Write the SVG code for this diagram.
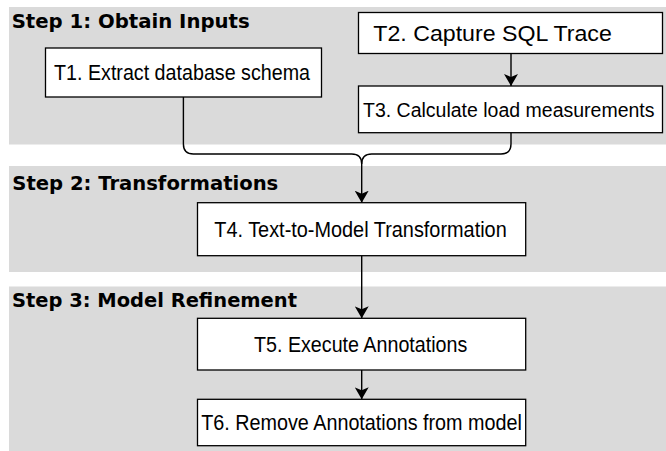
<svg xmlns="http://www.w3.org/2000/svg" width="666" height="451" viewBox="0 0 666 451">
<style>
.panel{fill:#dadada;stroke:none}
.step{font-family:"DejaVu Sans","Verdana",sans-serif;font-weight:bold;font-size:19.5px;fill:#000}
.box{fill:#fff;stroke:#000;stroke-width:1.3}
.lbl{font-family:"Liberation Sans",Arial,sans-serif;font-size:21.5px;fill:#000}
.edge{fill:none;stroke:#000;stroke-width:1.4}
</style>
<defs>
<marker id="arr" markerUnits="userSpaceOnUse" viewBox="0 0 12 14" refX="12" refY="7" markerWidth="12" markerHeight="14" orient="auto">
<path d="M0,0 L12,7 L0,14 L3,7 z" fill="#000"/>
</marker>
</defs>
<g id="panels">
<rect class="panel" x="9" y="7" width="657" height="137.5"/>
<rect class="panel" x="9" y="166" width="657" height="106"/>
<rect class="panel" x="9" y="286.5" width="657" height="164.5"/>
<text class="step" x="11.7" y="28.3" textLength="238" lengthAdjust="spacingAndGlyphs">Step 1: Obtain Inputs</text>
<text class="step" x="12.3" y="190" textLength="266" lengthAdjust="spacingAndGlyphs">Step 2: Transformations</text>
<text class="step" x="12" y="306.5" textLength="285" lengthAdjust="spacingAndGlyphs">Step 3: Model Refinement</text>
</g>
<g id="connectors">
<path class="edge" d="M183.4,97 V144 Q183.4,154 193.4,154 H351.7 Q361.7,154 361.7,164 V202.7" marker-end="url(#arr)"/>
<path class="edge" d="M511,132.7 V144 Q511,154 501,154 H371.7 Q361.7,154 361.7,164"/>
<path class="edge" d="M511,53.3 V86" marker-end="url(#arr)"/>
<path class="edge" d="M361.7,255.7 V318.3" marker-end="url(#arr)"/>
<path class="edge" d="M361.7,370 V399.3" marker-end="url(#arr)"/>
</g>
<g id="T1">
<rect class="box" x="45.5" y="48" width="276" height="49"/>
<text class="lbl" x="54" y="79.6" textLength="256" lengthAdjust="spacingAndGlyphs">T1. Extract database schema</text>
</g>
<g id="T2">
<rect class="box" x="358.5" y="12.5" width="304" height="41"/>
<text class="lbl" x="373.3" y="41" textLength="238.5" lengthAdjust="spacingAndGlyphs">T2. Capture SQL Trace</text>
</g>
<g id="T3">
<rect class="box" x="358.5" y="86" width="304" height="46.7"/>
<text class="lbl" x="363" y="116.9" style="font-size:20px" textLength="291.5" lengthAdjust="spacingAndGlyphs">T3. Calculate load measurements</text>
</g>
<g id="T4">
<rect class="box" x="197.5" y="202.7" width="328.2" height="53"/>
<text class="lbl" x="214.3" y="236.9" textLength="292.4" lengthAdjust="spacingAndGlyphs">T4. Text-to-Model Transformation</text>
</g>
<g id="T5">
<rect class="box" x="197.5" y="318.3" width="328.2" height="51.7"/>
<text class="lbl" x="254" y="351.9" textLength="213.3" lengthAdjust="spacingAndGlyphs">T5. Execute Annotations</text>
</g>
<g id="T6">
<rect class="box" x="197.5" y="399.3" width="328.2" height="46.4"/>
<text class="lbl" x="201.3" y="429.5" textLength="320.5" lengthAdjust="spacingAndGlyphs">T6. Remove Annotations from model</text>
</g>
</svg>
